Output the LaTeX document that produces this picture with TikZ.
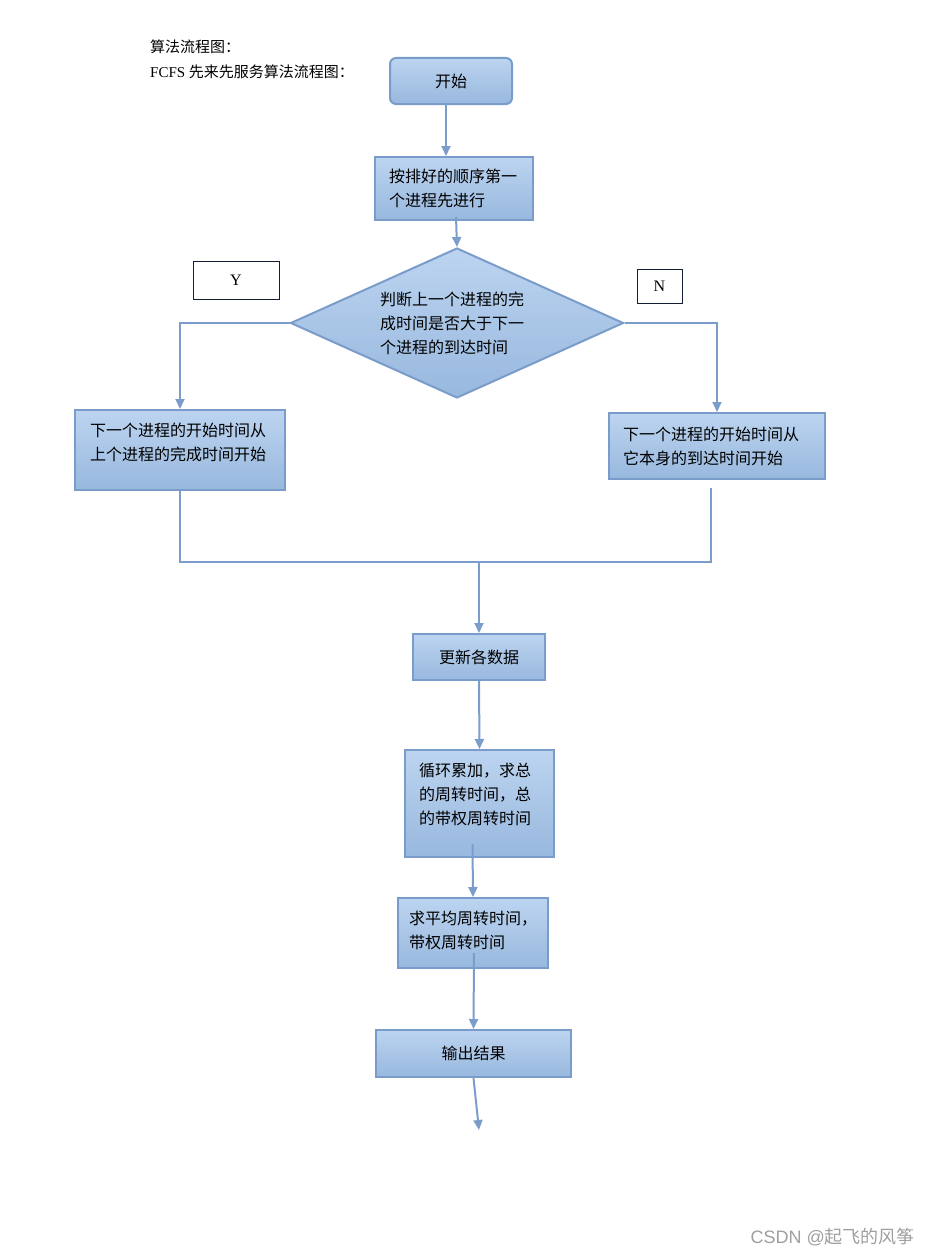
\documentclass[tikz,border=0pt]{standalone}
\usepackage{fontspec}
\setmainfont{Liberation Serif}
\newfontfamily\cjk{Noto Sans CJK SC}
\newfontfamily\wmfont{Liberation Sans}
\usetikzlibrary{shapes.geometric, arrows.meta, positioning, calc}
\definecolor{boxtop}{RGB}{188,212,240}
\definecolor{boxbottom}{RGB}{152,184,222}
\definecolor{boxedge}{RGB}{122,156,202}
\definecolor{flowline}{RGB}{122,157,203}
\definecolor{tagedge}{RGB}{20,30,50}

\begin{document}
\begin{tikzpicture}[x=1pt, y=-1pt,
    proc/.style={rectangle, draw=boxedge, line width=2pt, top color=boxtop, bottom color=boxbottom, inner sep=0pt, align=left, font=\cjk\fontsize{16}{24}\selectfont},
    decide/.style={diamond, aspect=2.2, draw=boxedge, line width=2pt, top color=boxtop, bottom color=boxbottom, inner sep=0pt, minimum width=333pt, minimum height=150pt, align=left, text width=154pt, font=\cjk\fontsize{16}{24}\selectfont},
    tag/.style={rectangle, draw=tagedge, line width=1pt, fill=white, font=\fontsize{16}{20}\selectfont},
    line/.style={line width=2pt, flowline},
    arrow/.style={line, -{Triangle[length=10pt,width=9pt]}}
]
    \useasboundingbox (0,0) rectangle (931,1255);

    % heading
    \node[anchor=west, inner sep=0pt, font=\fontsize{15}{18}\selectfont] (head1) at (150,47) {\cjk 算法流程图：};
    \node[anchor=west, inner sep=0pt, font=\fontsize{15}{18}\selectfont] (head2) at (150,72) {FCFS {\cjk 先来先服务算法流程图：}};

    % boxes
    \node[proc, rounded corners=6pt, align=center, minimum width=122pt, minimum height=46pt] (start) at (451,81) {开始};
    \node[proc, minimum width=158pt, minimum height=63pt, text width=130pt] (first) at (454,188.5) {按排好的顺序第一\\个进程先进行};
    \node[decide] (judge) at (457,323) {判断上一个进程的完\\成时间是否大于下一\\个进程的到达时间};
    \node[tag, minimum width=86pt, minimum height=38pt] (ytag) at (236,280) {Y};
    \node[tag, minimum width=45pt, minimum height=34pt] (ntag) at (659.5,286) {N};
    \node[proc, minimum width=210pt, minimum height=80pt, text width=180pt, text depth=41pt] (yes) at (180,450) {下一个进程的开始时间从\\上个进程的完成时间开始};
    \node[proc, minimum width=216pt, minimum height=66pt, text width=188pt] (no) at (717,446) {下一个进程的开始时间从\\它本身的到达时间开始};
    \node[proc, align=center, minimum width=132pt, minimum height=46pt] (update) at (479,657) {更新各数据};
    \node[proc, minimum width=149pt, minimum height=107pt, text width=121pt, text depth=67pt] (loop) at (479.5,803.5) {循环累加，求总\\的周转时间，总\\的带权周转时间};
    \node[proc, minimum width=150pt, minimum height=70pt, text width=128pt, text depth=30pt] (avg) at (473,933) {求平均周转时间，\\带权周转时间};
    \node[proc, align=center, minimum width=195pt, minimum height=47pt] (output) at (473.5,1053.5) {输出结果};

    \coordinate (join) at (479,562);
    \coordinate (finish) at (479,1130);

    % connectors
    \draw[arrow] ([xshift=-5pt]start.south) -- ([xshift=-8pt]first.north);
    \draw[arrow] ([xshift=2pt,yshift=4pt]first.south) -- (judge.north);
    \draw[arrow] (judge.west) -| (yes.north);
    \draw[arrow] (judge.east) -| (no.north);
    \draw[line] (yes.south) |- (join);
    \draw[line] ([xshift=-6pt,yshift=-8pt]no.south) |- (join);
    \draw[arrow] (join) -- (update.north);
    \draw[arrow] (update.south) -- (loop.north);
    \draw[arrow] ([xshift=-7pt,yshift=14pt]loop.south) -- (avg.north);
    \draw[arrow] ([xshift=1pt,yshift=16pt]avg.south) -- (output.north);
    \draw[arrow] (output.south) -- (finish);

    % watermark
    \node[anchor=east, inner sep=0pt, text=gray!75, font=\wmfont\fontsize{18}{20}\selectfont] (mark) at (915,1237) {CSDN @{\cjk 起飞的风筝}};
\end{tikzpicture}
\end{document}
